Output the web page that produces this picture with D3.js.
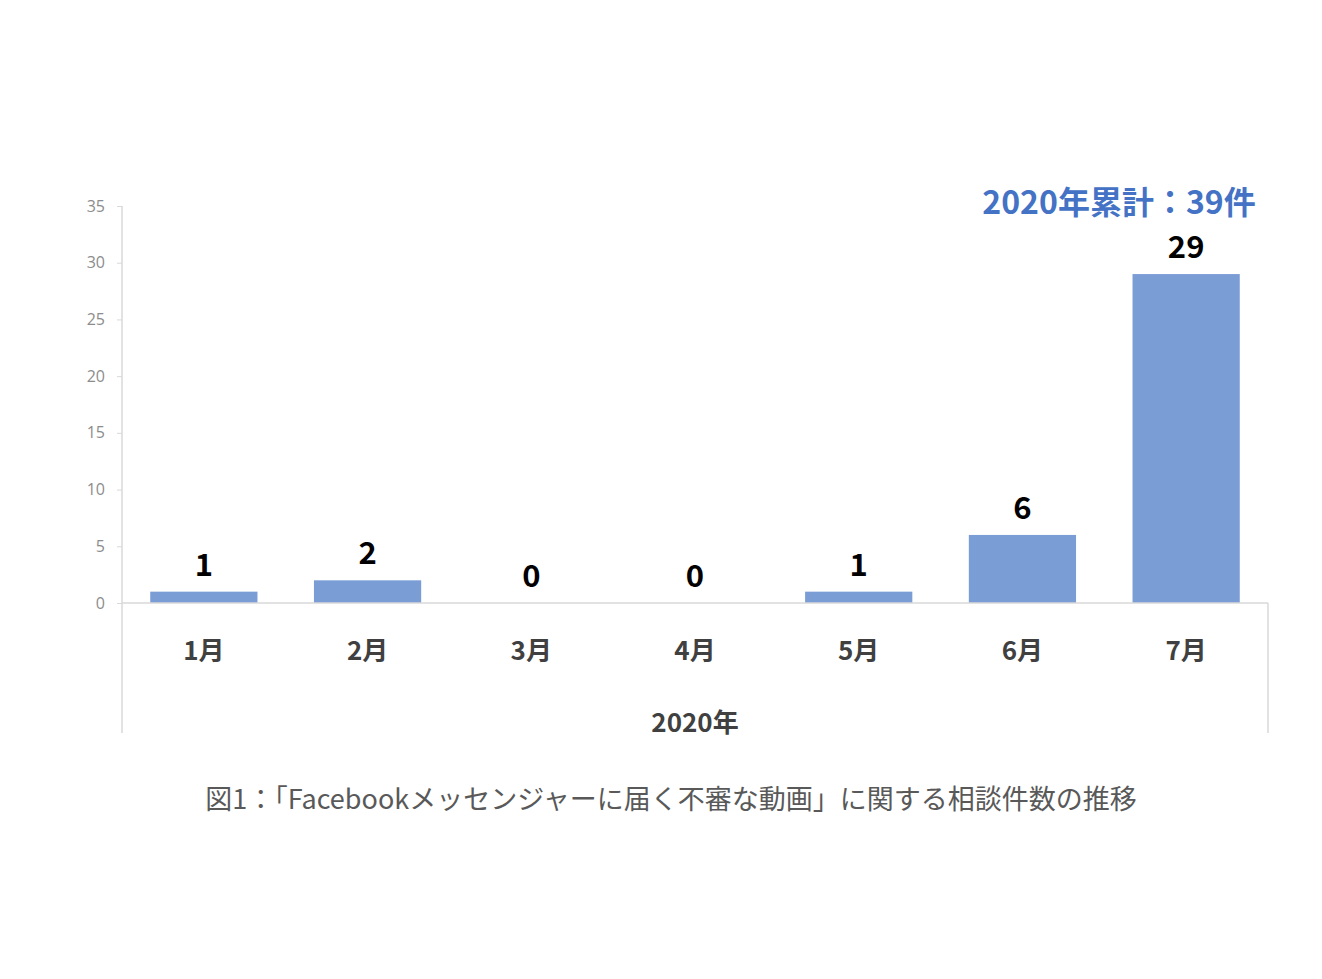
<!DOCTYPE html>
<html>
<head>
<meta charset="utf-8">
<script src="https://cdn.jsdelivr.net/npm/d3@7"></script>
<style>
  body { margin: 0; background: #fff; }
  text { font-family: "Noto Sans CJK JP", "Noto Sans", sans-serif; }
</style>
</head>
<body>
<svg id="vis"></svg>
<script>
// values
const months = ["1月", "2月", "3月", "4月", "5月", "6月", "7月"];
const counts = [1, 2, 0, 0, 1, 6, 29];
const yTicks = [0, 5, 10, 15, 20, 25, 30, 35];
const groupLabel = "2020年";
const totalNote = "2020年累計：39件";
const caption = "図1：「Facebookメッセンジャーに届く不審な動画」に関する相談件数の推移";

function main()
{
    const width = 1322;
    const height = 979;

    // plot frame
    const plot = {left: 122, right: 1268, top: 206, bottom: 603, base: 733};

    let svg = d3.select('#vis')
        .attr('width', width)
        .attr('height', height);

    let xScale = d3.scaleBand()
        .domain(months)
        .range([plot.left, plot.right])
        .paddingInner(0.345)
        .paddingOuter(0.1725);

    let yScale = d3.scaleLinear()
        .domain([0, 35])
        .range([plot.bottom, plot.top]);

    // y axis
    let yAxis = svg.append("g")
        .attr("transform", "translate(" + plot.left + ",0)")
        .call(d3.axisLeft(yScale).tickValues(yTicks).tickSize(5).tickPadding(12));
    yAxis.select(".domain").remove();
    yAxis.selectAll(".tick line").attr("stroke", "#d9d9d9");
    yAxis.selectAll(".tick text")
        .attr("fill", "#8c8c8c")
        .style("font-size", "16px")
        .style("font-family", "'Open Sans', sans-serif");

    // frame lines
    const lineColor = "#d9d9d9";
    svg.append("line")
        .attr("x1", plot.left).attr("x2", plot.left)
        .attr("y1", yScale(35)).attr("y2", plot.base)
        .attr("stroke", lineColor).attr("stroke-width", 1.5);
    svg.append("line")
        .attr("x1", plot.right).attr("x2", plot.right)
        .attr("y1", yScale(0)).attr("y2", plot.base)
        .attr("stroke", lineColor).attr("stroke-width", 1.5);

    // bars
    svg.append("g")
        .selectAll("rect")
        .data(counts)
        .enter()
        .append("rect")
        .attr("x", (d, i) => xScale(months[i]))
        .attr("width", xScale.bandwidth())
        .attr("y", d => yScale(d))
        .attr("height", d => yScale(0) - yScale(d))
        .attr("fill", "#7b9dd6");

    svg.append("line")
        .attr("x1", plot.left).attr("x2", plot.right)
        .attr("y1", yScale(0)).attr("y2", yScale(0))
        .attr("stroke", lineColor).attr("stroke-width", 1.5);

    // value labels
    svg.append("g")
        .selectAll("text")
        .data(counts)
        .enter()
        .append("text")
        .attr("x", (d, i) => xScale(months[i]) + xScale.bandwidth() / 2)
        .attr("y", d => yScale(d) - 16)
        .attr("text-anchor", "middle")
        .attr("fill", "#000")
        .style("font-size", "31px")
        .style("font-weight", "bold")
        .text(d => d);

    // month labels
    svg.append("g")
        .selectAll("text")
        .data(months)
        .enter()
        .append("text")
        .attr("x", d => xScale(d) + xScale.bandwidth() / 2)
        .attr("y", 660)
        .attr("text-anchor", "middle")
        .attr("fill", "#404040")
        .style("font-size", "26px")
        .style("font-weight", "bold")
        .text(d => d);

    svg.append("text")
        .attr("x", (plot.left + plot.right) / 2)
        .attr("y", 732)
        .attr("text-anchor", "middle")
        .attr("fill", "#404040")
        .style("font-size", "26px")
        .style("font-weight", "bold")
        .text(groupLabel);

    // total note above the last bar
    svg.append("text")
        .attr("x", 1119)
        .attr("y", 214)
        .attr("text-anchor", "middle")
        .attr("fill", "#4472c4")
        .style("font-size", "32px")
        .style("font-weight", "bold")
        .text(totalNote);

    // caption
    svg.append("text")
        .attr("x", 671)
        .attr("y", 809)
        .attr("text-anchor", "middle")
        .attr("fill", "#595959")
        .style("font-size", "27px")
        .text(caption);
}

main();
</script>
</body>
</html>
